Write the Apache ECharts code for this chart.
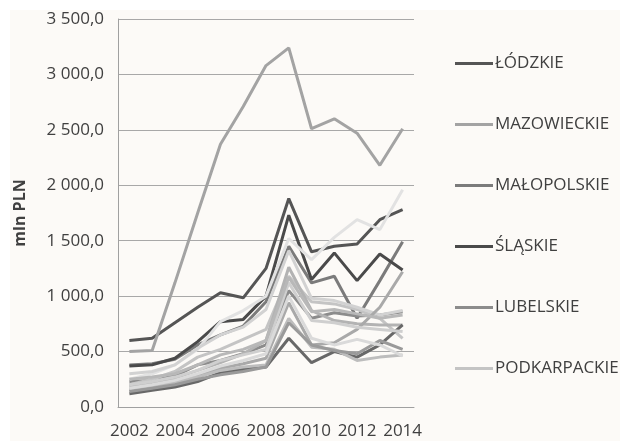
<!DOCTYPE html>
<html><head><meta charset="utf-8">
<script src="https://cdn.jsdelivr.net/npm/echarts@6/dist/echarts.min.js"></script>
<style>html,body{margin:0;padding:0;background:#fff}#c{width:620px;height:441px}</style>
</head><body><div id="c"></div>
<script>
const years = ['2002','2003','2004','2005','2006','2007','2008','2009','2010','2011','2012','2013','2014'];
const yTicks = [0,500,1000,1500,2000,2500,3000,3500];
const legendNames = ['ŁÓDZKIE','MAZOWIECKIE','MAŁOPOLSKIE','ŚLĄSKIE','LUBELSKIE','PODKARPACKIE'];

const lodzkie       = [600,620,760,900,1030,985,1250,1880,1400,1450,1470,1690,1780];
const mazowieckie   = [500,510,1120,1750,2370,2710,3080,3240,2510,2600,2470,2180,2510];
const malopolskie   = [380,390,430,560,650,730,950,1450,1120,1180,800,1140,1490];
const slaskie       = [370,380,440,590,770,790,1000,1730,1150,1390,1140,1380,1235];
const lubelskie     = [230,240,280,380,420,480,560,1050,800,850,820,830,860];
const podkarpackie  = [200,250,320,450,520,610,700,1180,950,930,880,800,620];
const podlaskie     = [250,300,380,520,770,870,1000,1520,1330,1530,1690,1600,1960];
const swietokrzyskie= [300,320,380,530,650,720,880,1410,980,960,900,830,870];
const lubuskie      = [180,220,260,330,400,480,600,1260,870,780,750,740,740];
const wielkopolskie = [150,170,220,290,350,390,440,940,560,580,700,900,1220];
const zachodniopom  = [120,150,180,230,310,340,360,620,400,500,450,560,740];
const dolnoslaskie  = [160,190,220,270,330,360,380,800,540,520,420,450,470];
const opolskie      = [140,170,200,250,290,320,360,760,560,510,480,600,520];
const kujawskopom   = [200,230,270,330,420,470,520,1120,780,760,720,700,680];
const pomorskie     = [250,270,300,380,470,520,600,1170,860,880,840,800,830];
const warminskomaz  = [170,200,240,300,370,420,480,1000,620,560,610,560,460];

const seriesDefs = [
  ['ŁÓDZKIE', lodzkie, '#555555'],
  ['MAZOWIECKIE', mazowieckie, '#a3a3a3'],
  ['MAŁOPOLSKIE', malopolskie, '#7b7b7b'],
  ['ŚLĄSKIE', slaskie, '#4a4a4a'],
  ['LUBELSKIE', lubelskie, '#8c8c8c'],
  ['PODKARPACKIE', podkarpackie, '#c4c4c4'],
  ['PODLASKIE', podlaskie, '#e2e2e2'],
  ['ŚWIĘTOKRZYSKIE', swietokrzyskie, '#d2d2d2'],
  ['LUBUSKIE', lubuskie, '#b3b3b3'],
  ['WIELKOPOLSKIE', wielkopolskie, '#a9a9a9'],
  ['ZACHODNIOPOMORSKIE', zachodniopom, '#686868'],
  ['DOLNOŚLĄSKIE', dolnoslaskie, '#bdbdbd'],
  ['OPOLSKIE', opolskie, '#9a9a9a'],
  ['KUJAWSKO-POMORSKIE', kujawskopom, '#cfcfcf'],
  ['POMORSKIE', pomorskie, '#b8b8b8'],
  ['WARMIŃSKO-MAZURSKIE', warminskomaz, '#dadada']
];

function fmt(v){
  if (v >= 1000) { const t = Math.floor(v/1000); const r = String(v%1000).padStart(3,'0'); return t + ' ' + r + ',0'; }
  return v + ',0';
}

const chart = echarts.init(document.getElementById('c'), null, {renderer:'canvas'});
chart.setOption({
  backgroundColor: '#ffffff',
  animation: false,
  textStyle: {fontFamily: 'Open Sans'},
  graphic: [{type:'rect', z:-10, silent:true, shape:{x:10,y:10,width:610,height:431}, style:{fill:'#fcfaf7'}}],
  grid: {left:118, right:206, top:19, bottom:34},
  legend: {
    data: legendNames,
    orient: 'vertical', left: 450, top: 50, itemGap: 44,
    icon: 'rect', itemWidth: 38, itemHeight: 3,
    textStyle: {fontSize: 17, color: '#404040', fontFamily: 'Open Sans', padding:[0,0,0,-3]}
  },
  xAxis: {
    type: 'category', data: years, boundaryGap: true,
    axisLine: {lineStyle:{color:'#a0a0a0', width:1}},
    axisTick: {show:false},
    axisLabel: {interval: 1, fontSize: 17, color:'#404040', margin: 16}
  },
  yAxis: {
    type: 'value', min: yTicks[0], max: yTicks[yTicks.length-1], interval: 500,
    name: 'mln PLN', nameLocation: 'middle', nameGap: 90, nameRotate: 90,
    nameMoveOverlap: false,
    nameTextStyle: {fontSize: 16, fontWeight: 'bold', color:'#404040'},
    axisLine: {show:true, lineStyle:{color:'#a0a0a0'}},
    axisTick: {show:false},
    splitLine: {lineStyle:{color:'#a8a8a8', width:1}},
    axisLabel: {formatter: fmt, fontSize: 17, color:'#404040', margin: 14}
  },
  series: seriesDefs.map(([n,d,c]) => ({
    name: n, type: 'line', data: d, symbol: 'none',
    lineStyle: {color: c, width: 3}, itemStyle: {color: c}
  }))
});
</script></body></html>
